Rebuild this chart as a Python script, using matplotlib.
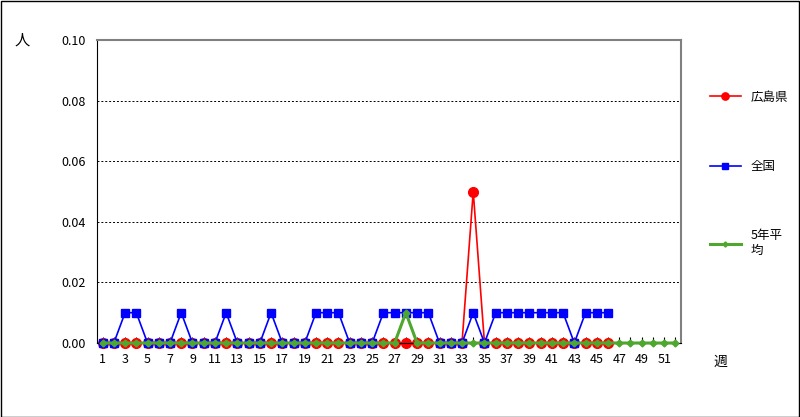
import matplotlib.pyplot as plt
import numpy as np

plt.rcParams['font.family'] = ['Noto Sans CJK JP', 'DejaVu Sans']

weeks = list(range(1, 53))
hiroshima = [0.0] * 46
hiroshima[33] = 0.05
zenkoku_weeks = [3, 4, 8, 12, 16, 20, 21, 22, 26, 27, 28, 29, 30, 34,
                 36, 37, 38, 39, 40, 41, 42, 44, 45, 46]
zenkoku = [0.01 if w in zenkoku_weeks else 0.0 for w in range(1, 47)]
avg5 = [0.0] * 52
avg5[27] = 0.01

fig = plt.figure(figsize=(8, 4.17), dpi=100)
ax = fig.add_axes([97/800, 1-343/417, (681-97)/800, (343-40)/417])
fig.patches.append(plt.Rectangle((0.001, 0.001), 0.998, 0.997, transform=fig.transFigure,
                                 fill=False, edgecolor='black', lw=1))

ax.plot(weeks[:46], hiroshima, color='red', marker='o', ms=7, lw=1.2, label='広島県', zorder=2, clip_on=False)
ax.plot(weeks[:46], zenkoku, color='blue', marker='s', ms=6, lw=1.2, label='全国', zorder=3, clip_on=False)
ax.plot(weeks, avg5, color='#4ea72e', marker='D', ms=3.5, lw=2.2, label='5年平\n均', zorder=4, clip_on=False)

ax.set_xlim(0.5, 52.5)
ax.set_ylim(0, 0.1)
ax.set_xticks(weeks)
ax.set_xticklabels([str(w) if w % 2 == 1 else '' for w in weeks], fontsize=9)
ax.tick_params(axis='x', direction='in', length=4, pad=7)
ax.set_yticks(np.arange(0, 0.101, 0.02))
ax.set_yticklabels([f'{v:.2f}' for v in np.arange(0, 0.101, 0.02)], fontsize=9)
ax.tick_params(axis='y', length=0, pad=8)
ax.grid(axis='y', linestyle='--', color='black', lw=0.7, dashes=(2, 2))
for s in ['top', 'right']:
    ax.spines[s].set_color('gray')
    ax.spines[s].set_linewidth(1.5)

fig.text(22/800, 1-40/417, '人', fontsize=11, ha='center', va='center')
fig.text(720/800, 1-362/417, '週', fontsize=10, ha='center', va='center')
ax.legend(loc='upper left', bbox_to_anchor=(1.03, 0.87), frameon=False,
          fontsize=9, labelspacing=4.5, handlelength=2.5, markerscale=0.75)

fig.savefig('out.png')
